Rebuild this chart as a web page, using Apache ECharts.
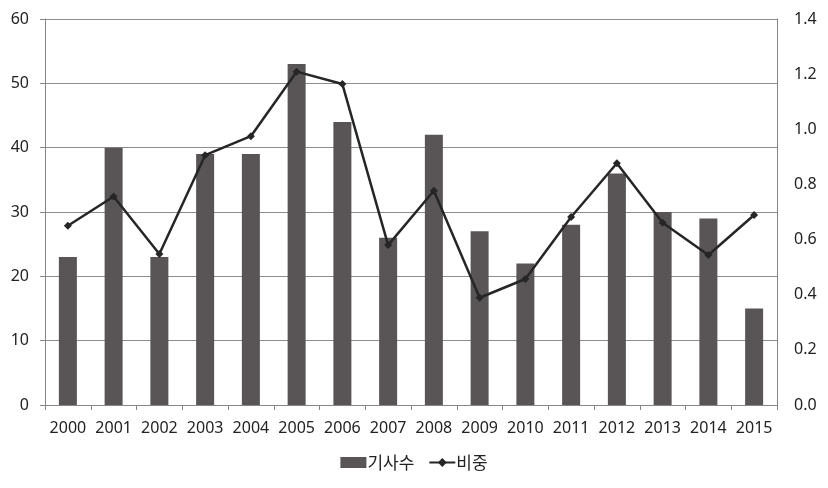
<!DOCTYPE html>
<html><head><meta charset="utf-8">
<script src="https://cdn.jsdelivr.net/npm/echarts@6/dist/echarts.min.js"></script>
<style>html,body{margin:0;padding:0;background:#fff}#c{width:828px;height:488px}</style>
</head><body><div id="c"></div>
<script>
const years = ['2000','2001','2002','2003','2004','2005','2006','2007','2008','2009','2010','2011','2012','2013','2014','2015'];
const articleCounts = [23,40,23,39,39,53,44,26,42,27,22,28,36,30,29,15];
const shares = [0.65,0.756,0.548,0.906,0.975,1.209,1.164,0.58,0.777,0.389,0.457,0.682,0.877,0.661,0.544,0.689];
const leftTicks = {min:0,max:60,interval:10};
const rightTicks = {min:0,max:1.4,interval:0.2};

const chart = echarts.init(document.getElementById('c'));
const axisFont = {fontFamily:'Noto Sans', fontSize:16, color:'#222'};
chart.setOption({
  animation:false,
  grid:{left:45,right:51,top:19,bottom:83},
  legend:{
    bottom:12, left:'center', itemGap:14, itemWidth:26, itemHeight:11,
    textStyle:{fontFamily:'Noto Sans CJK KR', fontSize:17, color:'#222', padding:[0,0,0,-4]},
    data:[{name:'기사수', icon:'rect'},{name:'비중'}]
  },
  xAxis:{
    type:'category', data:years, boundaryGap:true,
    axisLine:{lineStyle:{color:'#868686', width:1}},
    axisTick:{show:true, length:5, interval:0, lineStyle:{color:'#868686'}},
    axisLabel:Object.assign({margin:15, interval:0}, axisFont)
  },
  yAxis:[
    {type:'value', min:leftTicks.min, max:leftTicks.max, interval:leftTicks.interval,
     axisLine:{show:true, lineStyle:{color:'#868686'}},
     axisTick:{show:true, length:5, lineStyle:{color:'#868686'}},
     splitLine:{lineStyle:{color:'#8c8c8c', width:1}},
     axisLabel:Object.assign({margin:16}, axisFont)},
    {type:'value', min:rightTicks.min, max:rightTicks.max, interval:rightTicks.interval,
     axisLine:{show:true, lineStyle:{color:'#868686'}},
     axisTick:{show:false},
     splitLine:{show:false},
     axisLabel:Object.assign({margin:17, formatter:v=>v.toFixed(1)}, axisFont)}
  ],
  series:[
    {name:'기사수', type:'bar', data:articleCounts, barWidth:18, yAxisIndex:0,
     itemStyle:{color:'#595556'}},
    {name:'비중', type:'line', data:shares, yAxisIndex:1,
     symbol:'diamond', symbolSize:8,
     lineStyle:{color:'#262626', width:2.5},
     itemStyle:{color:'#262626'}}
  ]
});
</script></body></html>
